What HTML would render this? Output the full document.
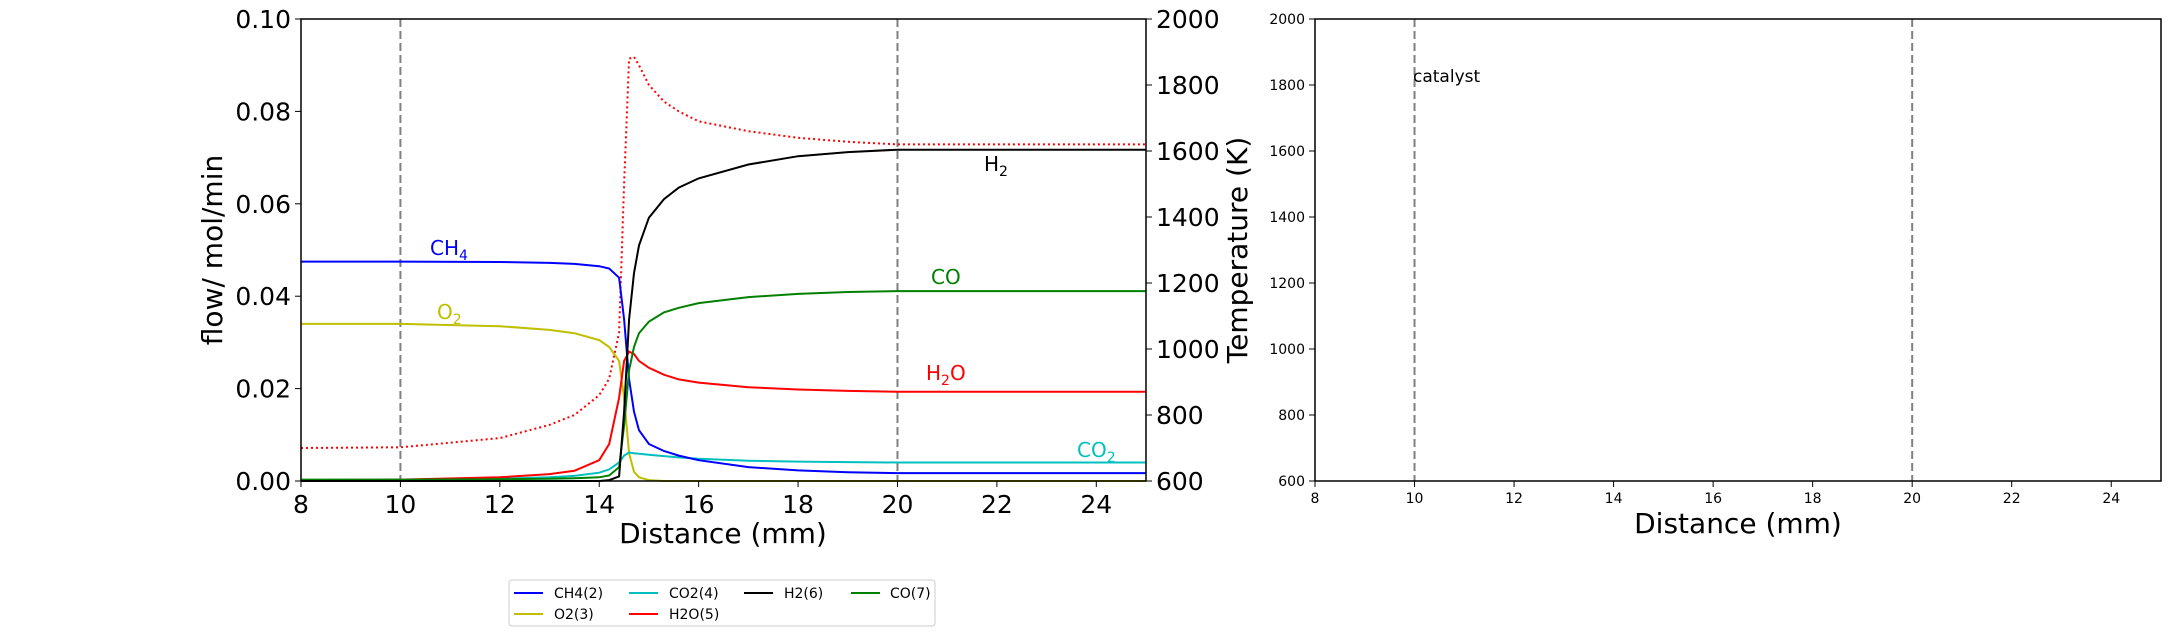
<!DOCTYPE html>
<html><head><meta charset="utf-8"><style>
html,body{margin:0;padding:0;background:#fff}
svg{display:block;font-family:"DejaVu Sans","Liberation Sans",sans-serif}
</style></head><body>
<svg id="c" width="2173" height="636" viewBox="0 0 2173 636"></svg>
<script>
const xs=[8,10,12,13,13.5,14,14.2,14.4,14.5,14.6,14.7,14.8,15,15.3,15.6,16,17,18,19,20,25];
const ch4=[0.0475,0.0475,0.0474,0.0472,0.0470,0.0465,0.046,0.044,0.035,0.022,0.015,0.011,0.008,0.0065,0.0055,0.0045,0.003,0.0023,0.0019,0.0017,0.0017];
const o2=[0.034,0.034,0.0335,0.0327,0.032,0.0305,0.029,0.026,0.018,0.006,0.002,0.0008,0.0002,0,0,0,0,0,0,0,0];
const co2=[0.0002,0.0003,0.0005,0.0008,0.0011,0.0018,0.0025,0.004,0.0055,0.0062,0.006,0.0059,0.0057,0.0054,0.0051,0.0048,0.0044,0.0042,0.0041,0.004,0.004];
const h2o=[0.0002,0.0003,0.0008,0.0015,0.0022,0.0045,0.008,0.018,0.026,0.028,0.0275,0.026,0.0245,0.023,0.022,0.0213,0.0203,0.0198,0.0195,0.0193,0.0193];
const h2=[0,0,0,0,0,0,0.0002,0.001,0.015,0.035,0.045,0.051,0.057,0.061,0.0635,0.0655,0.0685,0.0703,0.0712,0.0717,0.0717];
const co=[0.0003,0.0003,0.0004,0.0005,0.0006,0.0008,0.0012,0.003,0.012,0.024,0.029,0.032,0.0345,0.0365,0.0375,0.0385,0.0398,0.0405,0.0409,0.0411,0.0411];
const temp=[700,702,730,770,800,860,910,1050,1500,1880,1885,1860,1800,1750,1720,1690,1660,1640,1628,1620,1620];
const xTicks=[8,10,12,14,16,18,20,22,24];
const yTicks=[0,0.02,0.04,0.06,0.08,0.10];
const tTicks=[600,800,1000,1200,1400,1600,1800,2000];

const S=document.getElementById('c');const NS='http://www.w3.org/2000/svg';
function el(t,a,txt){const e=document.createElementNS(NS,t);for(const k in a)e.setAttribute(k,a[k]);if(txt!==undefined)e.textContent=txt;S.appendChild(e);return e;}
const L={x0:301,x1:1146,y0:481,y1:19}, R={x0:1315,x1:2161};
const sx=v=>L.x0+(v-8)/17*(L.x1-L.x0);
const rx=v=>R.x0+(v-8)/17*(R.x1-R.x0);
const sy=v=>L.y0-v/0.1*(L.y0-L.y1);
const ty=v=>L.y0-(v-600)/1400*(L.y0-L.y1);

// left axes frame
let e;
[10,20].forEach(v=>{e=el('line',{x1:sx(v),x2:sx(v),y1:L.y1,y2:L.y0,stroke:'#808080','stroke-width':2,'stroke-dasharray':'8,4'});

e=el('line',{x1:rx(v),x2:rx(v),y1:L.y1,y2:L.y0,stroke:'#808080','stroke-width':2,'stroke-dasharray':'8,4'});
});

function line(arr,f,col,name,dash){const p=xs.map((x,i)=>sx(x).toFixed(1)+','+f(arr[i]).toFixed(1)).join(' ');
const a={points:p,fill:'none',stroke:col,'stroke-width':2};if(dash){a['stroke-dasharray']='2,3';}
const q=el('polyline',a);}
line(temp,ty,'#ff0000','temperature-line',true);
line(o2,sy,'#bfbf00','o2-line');
line(co2,sy,'#00bfbf','co2-line');
line(h2o,sy,'#ff0000','h2o-line');
line(ch4,sy,'#0000ff','ch4-line');
line(co,sy,'#008000','co-line');
line(h2,sy,'#000000','h2-line');

e=el('rect',{x:L.x0,y:L.y1,width:L.x1-L.x0,height:L.y0-L.y1,fill:'none',stroke:'#000','stroke-width':1.5});

e=el('rect',{x:R.x0,y:L.y1,width:R.x1-R.x0,height:L.y0-L.y1,fill:'none',stroke:'#000','stroke-width':1.5});


xTicks.forEach(v=>{el('line',{x1:sx(v),x2:sx(v),y1:L.y0,y2:L.y0+6,stroke:'#000'});
e=el('text',{x:sx(v),y:L.y0+32,'font-size':25,'text-anchor':'middle'},v);
el('line',{x1:rx(v),x2:rx(v),y1:L.y0,y2:L.y0+6,stroke:'#000'});
e=el('text',{x:rx(v),y:L.y0+22,'font-size':14,'text-anchor':'middle'},v);});
yTicks.forEach(v=>{el('line',{x1:L.x0-6,x2:L.x0,y1:sy(v),y2:sy(v),stroke:'#000'});
e=el('text',{x:L.x0-10,y:sy(v)+9,'font-size':25,'text-anchor':'end'},v.toFixed(2));});
tTicks.forEach(v=>{el('line',{x1:L.x1,x2:L.x1+6,y1:ty(v),y2:ty(v),stroke:'#000'});
e=el('text',{x:L.x1+10,y:ty(v)+9,'font-size':25},v);
el('line',{x1:R.x0-6,x2:R.x0,y1:ty(v),y2:ty(v),stroke:'#000'});
e=el('text',{x:R.x0-10,y:ty(v)+5,'font-size':14,'text-anchor':'end'},v);});
</script>
<svg width="0" height="0"></svg>
<div style="position:absolute;left:0;top:0;width:2173px;height:636px;pointer-events:none">
<svg width="2173" height="636" style="position:absolute;left:0;top:0;font-family:'DejaVu Sans','Liberation Sans',sans-serif">
<text x="723" y="543" font-size="28" text-anchor="middle">Distance (mm)</text>
<text x="1738" y="533" font-size="28" text-anchor="middle">Distance (mm)</text>
<text transform="translate(222,250) rotate(-90)" font-size="28" text-anchor="middle">flow/ mol/min</text>
<text transform="translate(1247,250) rotate(-90)" font-size="28" text-anchor="middle">Temperature (K)</text>
<text x="1413" y="82" font-size="17">catalyst</text>
<text x="430" y="255" font-size="20" fill="#0000ff">CH<tspan font-size="14" dy="5">4</tspan></text>
<text x="437" y="319" font-size="20" fill="#bfbf00">O<tspan font-size="14" dy="5">2</tspan></text>
<text x="984" y="171" font-size="20" fill="#000">H<tspan font-size="14" dy="5">2</tspan></text>
<text x="931" y="284" font-size="20" fill="#008000">CO</text>
<text x="926" y="380" font-size="20" fill="#ff0000">H<tspan font-size="14" dy="5">2</tspan><tspan dy="-5">O</tspan></text>
<text x="1077" y="457" font-size="20" fill="#00bfbf">CO<tspan font-size="14" dy="5">2</tspan></text>
<g>
<rect x="509" y="580" width="426" height="46" fill="#fff" stroke="#ccc" rx="3"/>
<g font-size="14">
<line x1="514" x2="543" y1="593" y2="593" stroke="#0000ff" stroke-width="2"/><text x="554" y="598">CH4(2)</text>
<line x1="629" x2="658" y1="593" y2="593" stroke="#00bfbf" stroke-width="2"/><text x="669" y="598">CO2(4)</text>
<line x1="744" x2="773" y1="593" y2="593" stroke="#000" stroke-width="2"/><text x="784" y="598">H2(6)</text>
<line x1="851" x2="880" y1="593" y2="593" stroke="#008000" stroke-width="2"/><text x="890" y="598">CO(7)</text>
<line x1="514" x2="543" y1="614" y2="614" stroke="#bfbf00" stroke-width="2"/><text x="554" y="619">O2(3)</text>
<line x1="629" x2="658" y1="614" y2="614" stroke="#ff0000" stroke-width="2"/><text x="669" y="619">H2O(5)</text>
</g></g>
</svg></div>
</body></html>
